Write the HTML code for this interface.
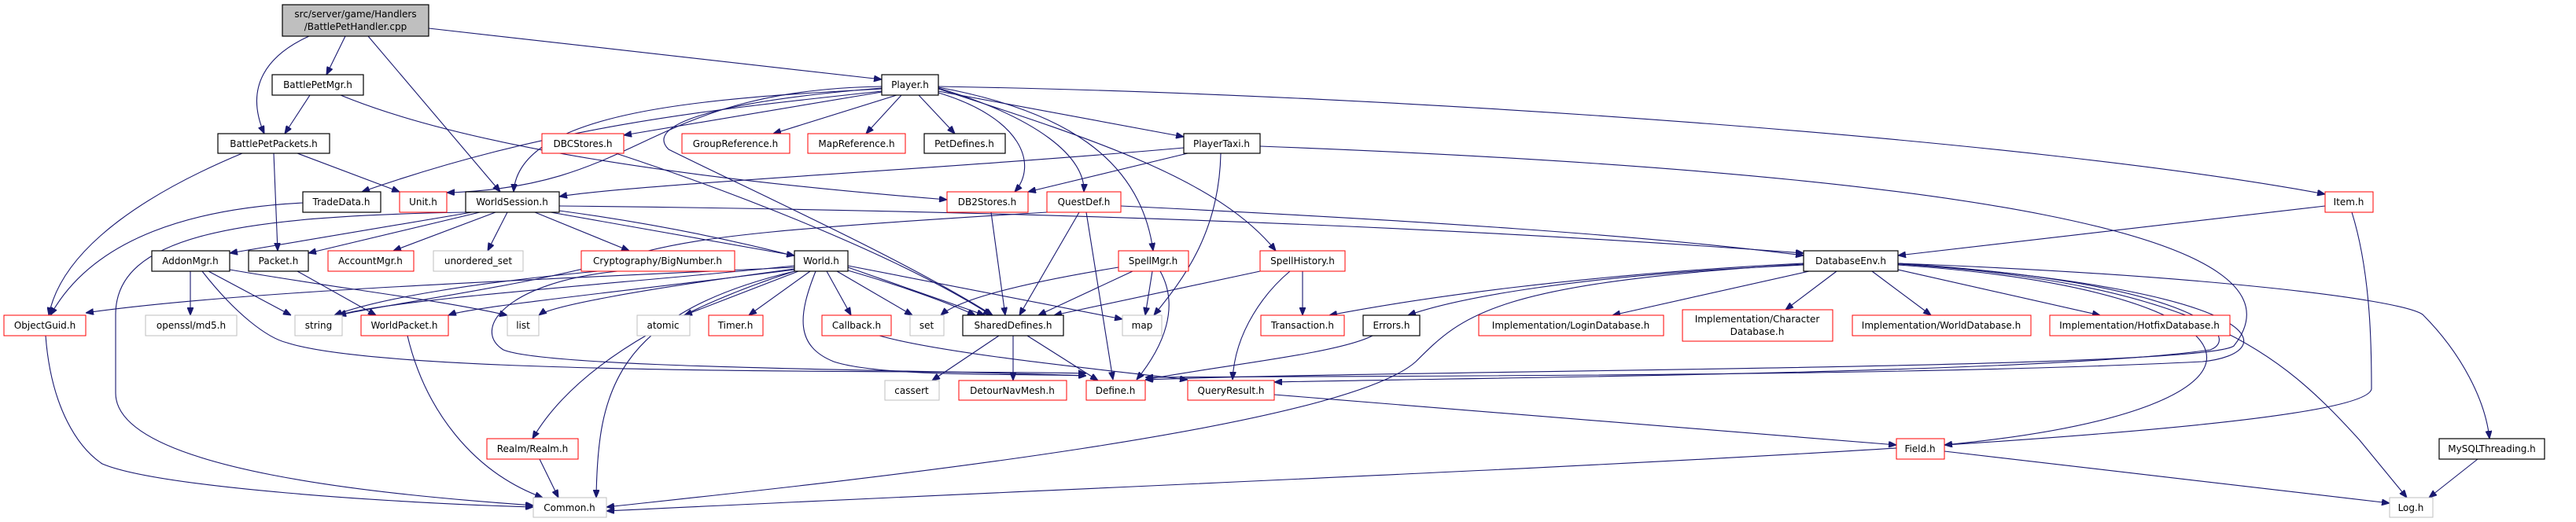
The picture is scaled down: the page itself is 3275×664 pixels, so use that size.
<!DOCTYPE html>
<html><head><meta charset="utf-8"><style>
html,body{margin:0;padding:0;background:#fff;}
svg{display:block;}
text{font-family:"DejaVu Sans","Liberation Sans",sans-serif;font-size:12px;fill:#000;text-anchor:middle;}
.e{fill:none;stroke:#191970;stroke-width:1.1;marker-end:url(#a);}
.k{fill:#fff;stroke:#000;stroke-width:1.2;}
.r{fill:#fff;stroke:#ff0000;stroke-width:1;}
.g{fill:#fff;stroke:#bfbfbf;stroke-width:1;}
</style></head><body>
<svg width="3275" height="664" viewBox="0 0 3275 664" xmlns="http://www.w3.org/2000/svg">
<defs><marker id="a" markerWidth="10" markerHeight="8" refX="10" refY="4" orient="auto" markerUnits="userSpaceOnUse"><path d="M0,0 L10,4 L0,8 z" fill="#191970" stroke="#191970"/></marker></defs>
<g>
<path class="e" d="M545,36 L1121,101"/>
<path class="e" d="M439,46 L415,95"/>
<path class="e" d="M393,46 C340,70 310,110 336,170"/>
<path class="e" d="M468,46 L636,244"/>
<path class="e" d="M394,121 L362,170"/>
<path class="e" d="M433,121 C600,190 900,230 1204,254"/>
<path class="e" d="M308,195 C200,240 80,310 62,401"/>
<path class="e" d="M348,195 L353,319"/>
<path class="e" d="M378,195 L508,244"/>
<path class="e" d="M385,258 C250,265 120,300 64,401"/>
<path class="e" d="M1121,113 C900,125 660,140 653,244"/>
<path class="e" d="M1121,116 C900,140 700,160 460,244"/>
<path class="e" d="M1121,110 C820,115 820,238 568,245"/>
<path class="e" d="M1121,117 L793,172"/>
<path class="e" d="M1140,121 L983,170"/>
<path class="e" d="M1146,121 L1101,170"/>
<path class="e" d="M1168,121 L1214,170"/>
<path class="e" d="M1193,116 L1505,174"/>
<path class="e" d="M1193,118 C1300,150 1320,210 1290,244"/>
<path class="e" d="M1193,112 C1320,150 1380,200 1378,244"/>
<path class="e" d="M1193,111 C1350,140 1450,200 1466,319"/>
<path class="e" d="M1193,113 C1400,180 1550,230 1622,319"/>
<path class="e" d="M1193,110 C1800,120 2600,180 2956,247"/>
<path class="e" d="M1121,112 C900,130 820,160 850,190 C950,240 1150,330 1262,401"/>
<path class="e" d="M1505,188 C1200,215 800,235 711,250"/>
<path class="e" d="M1510,195 L1307,244"/>
<path class="e" d="M1552,195 C1550,300 1500,360 1467,401"/>
<path class="e" d="M1602,186 C2500,220 2950,300 2840,440 C2800,470 1800,470 1456,483"/>
<path class="e" d="M600,270 L292,322"/>
<path class="e" d="M610,270 L392,322"/>
<path class="e" d="M630,270 L500,319"/>
<path class="e" d="M645,270 L620,319"/>
<path class="e" d="M680,270 L800,319"/>
<path class="e" d="M700,270 L1010,325"/>
<path class="e" d="M711,268 C950,300 1150,360 1240,401"/>
<path class="e" d="M711,262 C1500,270 2000,300 2293,322"/>
<path class="e" d="M592,270 C300,275 147,300 147,400 L147,500 C147,600 500,630 678,643"/>
<path class="e" d="M242,345 L242,401"/>
<path class="e" d="M265,345 L370,401"/>
<path class="e" d="M292,343 C450,370 550,380 645,401"/>
<path class="e" d="M257,345 C300,400 340,430 365,436 C500,480 1200,470 1381,475"/>
<path class="e" d="M378,345 L478,401"/>
<path class="e" d="M518,427 C540,520 600,600 690,633"/>
<path class="e" d="M58,427 C65,520 100,570 130,590 C200,620 500,640 678,645"/>
<path class="e" d="M760,345 C600,360 480,380 425,401"/>
<path class="e" d="M785,345 C640,360 600,420 640,445 C700,470 1200,470 1381,478"/>
<path class="e" d="M1010,340 C700,355 300,370 109,398"/>
<path class="e" d="M1010,338 C800,360 500,380 430,401"/>
<path class="e" d="M1010,342 C800,370 700,390 685,401"/>
<path class="e" d="M1010,343 C800,370 600,390 570,401"/>
<path class="e" d="M1015,345 L870,401"/>
<path class="e" d="M1030,345 L952,401"/>
<path class="e" d="M1051,345 L1082,401"/>
<path class="e" d="M1064,345 L1160,401"/>
<path class="e" d="M1078,340 L1252,401"/>
<path class="e" d="M1078,338 L1427,406"/>
<path class="e" d="M1037,345 C1015,400 1010,440 1060,460 C1120,480 1300,475 1381,478"/>
<path class="e" d="M1010,345 C900,380 740,450 677,558"/>
<path class="e" d="M1010,345 C780,400 760,500 758,633"/>
<path class="e" d="M686,584 L710,633"/>
<path class="e" d="M783,195 C950,250 1150,330 1260,401"/>
<path class="e" d="M1260,270 L1278,401"/>
<path class="e" d="M1372,270 L1296,401"/>
<path class="e" d="M1381,270 L1415,483"/>
<path class="e" d="M1425,262 C1800,280 2100,300 2293,325"/>
<path class="e" d="M1331,270 C1000,290 900,300 820,320 C700,360 500,385 430,401"/>
<path class="e" d="M1422,340 C1300,360 1220,380 1196,401"/>
<path class="e" d="M1440,345 L1320,401"/>
<path class="e" d="M1465,345 L1456,401"/>
<path class="e" d="M1475,345 C1500,390 1480,440 1445,483"/>
<path class="e" d="M1602,345 L1340,401"/>
<path class="e" d="M1656,345 L1656,401"/>
<path class="e" d="M1640,345 C1610,370 1570,420 1567,483"/>
<path class="e" d="M1270,427 L1185,484"/>
<path class="e" d="M1288,427 L1288,484"/>
<path class="e" d="M1306,427 L1396,484"/>
<path class="e" d="M1118,427 C1200,450 1400,470 1510,483"/>
<path class="e" d="M1745,427 C1700,450 1550,465 1456,483"/>
<path class="e" d="M2293,335 C2000,350 1800,380 1690,401"/>
<path class="e" d="M2293,337 C2000,350 1850,380 1790,401"/>
<path class="e" d="M2300,345 L2050,401"/>
<path class="e" d="M2335,345 L2270,394"/>
<path class="e" d="M2380,345 L2455,401"/>
<path class="e" d="M2413,343 L2670,401"/>
<path class="e" d="M2293,336 C1900,360 1860,400 1800,460 C1700,550 1000,620 771,645"/>
<path class="e" d="M2413,335 C2900,370 2900,450 2800,460 C2400,480 1700,478 1456,480"/>
<path class="e" d="M2413,335 C2800,360 2850,430 2810,445 C2600,475 1900,480 1620,486"/>
<path class="e" d="M2413,337 C2900,370 2950,520 2472,566"/>
<path class="e" d="M2413,336 C2800,360 2900,450 3000,560 L3060,633"/>
<path class="e" d="M2413,335 C2800,350 3050,380 3080,400 C3130,450 3160,510 3165,558"/>
<path class="e" d="M2956,262 L2413,325"/>
<path class="e" d="M2990,270 C3015,350 3015,450 3015,495 C3000,560 1800,600 771,650"/>
<path class="e" d="M2472,574 L3038,640"/>
<path class="e" d="M1620,502 L2411,566"/>
<path class="e" d="M3150,584 L3088,633"/>
</g>
<g>
<rect x="359" y="6" width="186" height="40" fill="#bfbfbf" stroke="#000" stroke-width="1.2"/>
<text x="452" y="22">src/server/game/Handlers</text><text x="452" y="38">/BattlePetHandler.cpp</text>

<rect class="k" x="346" y="95" width="116" height="26"/><text x="404" y="112">BattlePetMgr.h</text>
<rect class="k" x="1121" y="95" width="72" height="26"/><text x="1157" y="112">Player.h</text>

<rect class="k" x="277" y="170" width="142" height="25"/><text x="348" y="187">BattlePetPackets.h</text>
<rect class="r" x="689" y="170" width="104" height="25"/><text x="741" y="187">DBCStores.h</text>
<rect class="r" x="867" y="170" width="137" height="25"/><text x="935" y="187">GroupReference.h</text>
<rect class="r" x="1027" y="170" width="124" height="25"/><text x="1089" y="187">MapReference.h</text>
<rect class="k" x="1175" y="170" width="103" height="25"/><text x="1226" y="187">PetDefines.h</text>
<rect class="k" x="1505" y="170" width="97" height="25"/><text x="1553" y="187">PlayerTaxi.h</text>

<rect class="k" x="385" y="244" width="99" height="26"/><text x="434" y="261">TradeData.h</text>
<rect class="r" x="508" y="244" width="60" height="26"/><text x="538" y="261">Unit.h</text>
<rect class="k" x="592" y="244" width="119" height="26"/><text x="651" y="261">WorldSession.h</text>
<rect class="r" x="1204" y="244" width="103" height="26"/><text x="1255" y="261">DB2Stores.h</text>
<rect class="r" x="1331" y="244" width="94" height="26"/><text x="1378" y="261">QuestDef.h</text>
<rect class="r" x="2956" y="244" width="61" height="26"/><text x="2986" y="261">Item.h</text>

<rect class="k" x="193" y="319" width="99" height="26"/><text x="242" y="336">AddonMgr.h</text>
<rect class="k" x="316" y="319" width="76" height="26"/><text x="354" y="336">Packet.h</text>
<rect class="r" x="417" y="319" width="109" height="26"/><text x="471" y="336">AccountMgr.h</text>
<rect class="g" x="551" y="319" width="114" height="26"/><text x="608" y="336">unordered_set</text>
<rect class="r" x="739" y="319" width="195" height="26"/><text x="836" y="336">Cryptography/BigNumber.h</text>
<rect class="k" x="1010" y="319" width="68" height="26"/><text x="1044" y="336">World.h</text>
<rect class="r" x="1422" y="319" width="89" height="26"/><text x="1466" y="336">SpellMgr.h</text>
<rect class="r" x="1602" y="319" width="108" height="26"/><text x="1656" y="336">SpellHistory.h</text>
<rect class="k" x="2293" y="319" width="120" height="26"/><text x="2353" y="336">DatabaseEnv.h</text>

<rect class="r" x="5" y="401" width="104" height="26"/><text x="57" y="418">ObjectGuid.h</text>
<rect class="g" x="185" y="401" width="116" height="26"/><text x="243" y="418">openssl/md5.h</text>
<rect class="g" x="375" y="401" width="60" height="26"/><text x="405" y="418">string</text>
<rect class="r" x="459" y="401" width="111" height="26"/><text x="514" y="418">WorldPacket.h</text>
<rect class="g" x="645" y="401" width="40" height="26"/><text x="665" y="418">list</text>
<rect class="g" x="810" y="401" width="67" height="26"/><text x="843" y="418">atomic</text>
<rect class="r" x="901" y="401" width="69" height="26"/><text x="935" y="418">Timer.h</text>
<rect class="r" x="1045" y="401" width="88" height="26"/><text x="1089" y="418">Callback.h</text>
<rect class="g" x="1157" y="401" width="43" height="26"/><text x="1178" y="418">set</text>
<rect class="k" x="1224" y="401" width="128" height="26"/><text x="1288" y="418">SharedDefines.h</text>
<rect class="g" x="1427" y="401" width="50" height="26"/><text x="1452" y="418">map</text>
<rect class="r" x="1603" y="401" width="106" height="26"/><text x="1656" y="418">Transaction.h</text>
<rect class="k" x="1733" y="401" width="72" height="26"/><text x="1769" y="418">Errors.h</text>
<rect class="r" x="1880" y="401" width="235" height="26"/><text x="1997" y="418">Implementation/LoginDatabase.h</text>
<rect class="r" x="2139" y="394" width="191" height="40"/><text x="2234" y="410">Implementation/Character</text><text x="2234" y="426">Database.h</text>
<rect class="r" x="2355" y="401" width="227" height="26"/><text x="2468" y="418">Implementation/WorldDatabase.h</text>
<rect class="r" x="2606" y="401" width="229" height="26"/><text x="2720" y="418">Implementation/HotfixDatabase.h</text>

<rect class="g" x="1125" y="484" width="69" height="25"/><text x="1159" y="501">cassert</text>
<rect class="r" x="1219" y="484" width="137" height="25"/><text x="1287" y="501">DetourNavMesh.h</text>
<rect class="r" x="1381" y="484" width="75" height="25"/><text x="1418" y="501">Define.h</text>
<rect class="r" x="1510" y="484" width="110" height="25"/><text x="1565" y="501">QueryResult.h</text>

<rect class="r" x="619" y="558" width="116" height="26"/><text x="677" y="575">Realm/Realm.h</text>
<rect class="r" x="2411" y="558" width="61" height="26"/><text x="2441" y="575">Field.h</text>
<rect class="k" x="3101" y="558" width="134" height="26"/><text x="3168" y="575">MySQLThreading.h</text>

<rect class="g" x="678" y="633" width="93" height="25"/><text x="724" y="650">Common.h</text>
<rect class="g" x="3038" y="633" width="55" height="25"/><text x="3065" y="650">Log.h</text>
</g>
</svg>
</body></html>
